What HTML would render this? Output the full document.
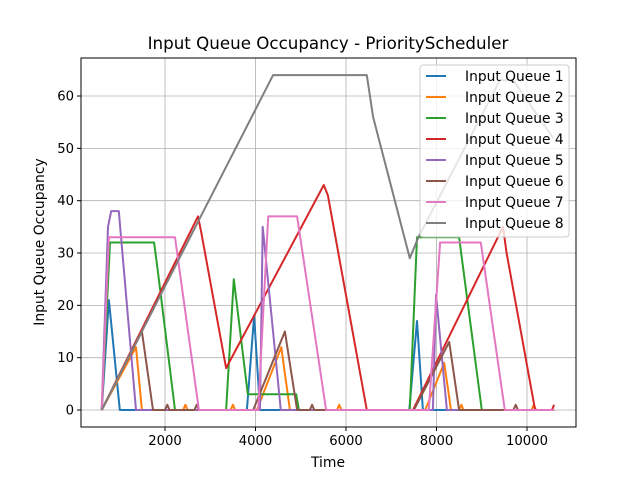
<!DOCTYPE html>
<html><head><meta charset="utf-8"><style>
body{margin:0;background:#fff;}
svg text{font-family:"DejaVu Sans","Liberation Sans",sans-serif;}
</style></head><body>
<svg id="chart" width="640" height="480" viewBox="0 0 640 480">
<rect width="640" height="480" fill="#fff"/>
<text x="328" y="49" font-size="16.7" text-anchor="middle">Input Queue Occupancy - PriorityScheduler</text>
<g id="grid"></g><g id="series"></g>
<rect x="81" y="58" width="495" height="369" fill="none" stroke="#000" stroke-width="1"/>
<g id="ticks"></g>
<text x="328" y="467" font-size="13.9" text-anchor="middle">Time</text>
<text x="44" y="242" font-size="13.9" text-anchor="middle" transform="rotate(-90 44 242)">Input Queue Occupancy</text>
<g id="legend"></g>
</svg>
<script>
const seriesNames=["Input Queue 1","Input Queue 2","Input Queue 3","Input Queue 4","Input Queue 5","Input Queue 6","Input Queue 7","Input Queue 8"];
const seriesColors=["#1f77b4","#ff7f0e","#2ca02c","#d62728","#9467bd","#8c564b","#e377c2","#7f7f7f"];
const xTicks=[2000,4000,6000,8000,10000];
const yTicks=[0,10,20,30,40,50,60];
const q1x=[600,760,1000,3810,3970,4100,7400,7570,7700,10600];
const q1y=[0,21,0,0,18,0,0,17,0,0];
const q2x=[600,1360,1490,2400,2450,2500,3450,3500,3550,4030,4570,4760,5800,5850,5900,7750,8170,8320,8500,8550,8600,10100,10150,10200,10600];
const q2y=[0,12,0,0,1,0,0,1,0,0,12,0,0,1,0,0,9,0,0,1,0,0,1,0,0];
const q3x=[600,785,1760,1850,2220,3350,3520,3830,4900,4960,7410,7570,8500,9000,10600];
const q3y=[0,32,32,26,0,0,25,3,3,0,0,33,33,0,0];
const q4x=[600,2730,2800,3350,5510,5600,6460,7480,9470,9550,10180,10550,10600];
const q4y=[0,37,34,8,43,41,0,0,35,30,0,0,1];
const q5x=[600,740,810,980,1360,4100,4160,4560,7920,7990,8230,10600];
const q5y=[0,35,38,38,0,0,35,0,0,22,0,0];
const q6x=[600,1490,1735,2000,2050,2100,2650,2700,2750,3900,3950,4650,4920,5200,5250,5300,7500,8280,8500,9700,9750,9800,10600];
const q6y=[0,15,0,0,1,0,0,1,0,0,0,15,0,0,1,0,0,13,0,0,1,0,0];
const q7x=[600,760,2220,2750,4060,4280,4920,5560,7830,8080,8980,9510,10600];
const q7y=[0,33,33,0,0,37,37,0,0,32,32,0,0];
const q8x=[600,4390,6460,6600,7410,7600,9400,9700,10580];
const q8y=[0,64,64,56,29,33,63,63,52];
const allX=[q1x,q2x,q3x,q4x,q5x,q6x,q7x,q8x];
const allY=[q1y,q2y,q3y,q4y,q5y,q6y,q7y,q8y];
const NS="http://www.w3.org/2000/svg";
const X0=81,X1=576,Y0=58,Y1=427;
function sx(v){return 74.5+v*0.04525;}
function sy(v){return 410-v*5.233;}
function mk(t,a,p){const e=document.createElementNS(NS,t);for(const k in a)e.setAttribute(k,a[k]);p.appendChild(e);return e;}
const grid=document.getElementById('grid'),ticks=document.getElementById('ticks');
xTicks.forEach(t=>{
 const x=sx(t);
 const g=mk('line',{x1:x,x2:x,y1:Y0,y2:Y1,stroke:'#b0b0b0','stroke-width':0.8},grid);
 
 
 const tk=mk('line',{x1:x,x2:x,y1:Y1,y2:Y1+4,stroke:'#000'},ticks);
 
 
 const lb=mk('text',{x:x,y:Y1+18,'font-size':13.2,'text-anchor':'middle'},ticks);
 lb.textContent=t;
 
 
});
yTicks.forEach(t=>{
 const y=sy(t);
 const g=mk('line',{x1:X0,x2:X1,y1:y,y2:y,stroke:'#b0b0b0','stroke-width':0.8},grid);
 
 
 const tk=mk('line',{x1:X0-4,x2:X0,y1:y,y2:y,stroke:'#000'},ticks);
 
 
 const lb=mk('text',{x:X0-7,y:y+4.5,'font-size':13.2,'text-anchor':'end'},ticks);
 lb.textContent=t;
 
 
});
const sg=document.getElementById('series');
allX.forEach((xs,i)=>{
 const pts=xs.map((x,j)=>sx(x).toFixed(1)+','+sy(allY[i][j]).toFixed(1)).join(' ');
 const p=mk('polyline',{points:pts,fill:'none',stroke:seriesColors[i],'stroke-width':2,'stroke-linejoin':'round'},sg);
 
 
});
const lg=document.getElementById('legend');
const box=mk('rect',{x:420,y:65,width:149,height:172,rx:3,fill:'#fff','fill-opacity':0.8,stroke:'#ccc'},lg);


seriesNames.forEach((n,i)=>{
 const y=76+i*21;
 const l=mk('line',{x1:426,x2:446,y1:y,y2:y,stroke:seriesColors[i],'stroke-width':2},lg);
 
 
 const t=mk('text',{x:465,y:y+5,'font-size':13.8},lg);
 t.textContent=n;
 
 
});
</script>
</body></html>
